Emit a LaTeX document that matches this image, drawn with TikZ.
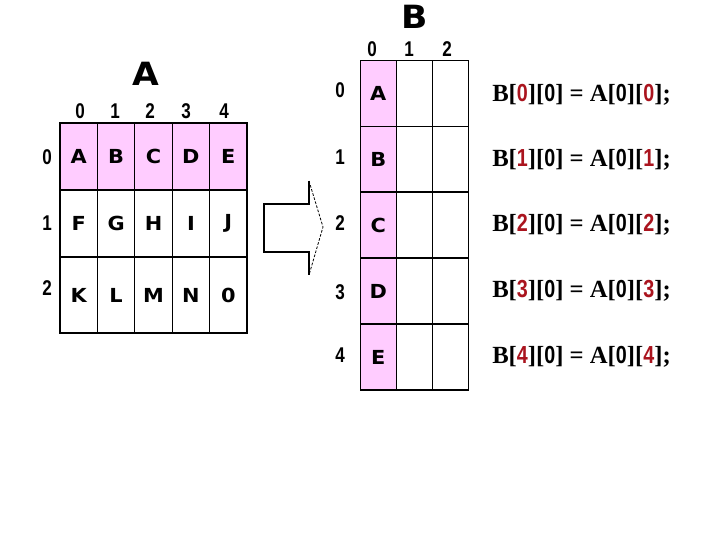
\documentclass[tikz,border=0pt]{standalone}
\usepackage{fontspec}
\setmainfont{Liberation Serif}
\newfontfamily\blackfont{DejaVu Sans}
\newfontfamily\digfont{Liberation Sans}
\definecolor{cellpink}{RGB}{255,204,255}
\definecolor{idxred}{RGB}{170,20,30}
\newcommand{\nd}[1]{\scalebox{0.8}[1]{\digfont\bfseries #1}}
\newcommand{\rd}[1]{\textcolor{idxred}{\nd{#1}}}
\newcommand{\wl}[1]{\scalebox{1.08}[1]{#1}}
\begin{document}
\begin{tikzpicture}[x=0.75pt,y=-0.75pt,
  cell/.style={draw=black,line width=0.9pt,inner sep=0pt,font=\blackfont\bfseries\fontsize{14.5}{17}\selectfont},
  acell/.style={cell,minimum width=28.05pt},
  bcell/.style={cell,minimum width=27pt,minimum height=49.5pt},
  idx/.style={inner sep=0pt,font=\fontsize{16}{18}\selectfont},
  title/.style={inner sep=0pt,font=\blackfont\bfseries\fontsize{24}{28}\selectfont},
  formula/.style={inner sep=0pt,anchor=west,font=\bfseries\fontsize{18.5}{22}\selectfont},
  arrowline/.style={line width=0.8pt},
  arrowdash/.style={line width=0.6pt,dash pattern=on 2pt off 1.2pt}]
\useasboundingbox (0,0) rectangle (720,540);
% titles
\node[title] (tA) at (146,74) {\wl{A}};
\node[title] (tB) at (415,17) {\wl{B}};
% A column labels
\foreach \c/\x in {0/80,1/115,2/150,3/186,4/224}
  \node[idx] (ac\c) at (\x,111) {\nd{\c}};
% A row labels
\foreach \r/\y in {0/157,1/223,2/288}
  \node[idx] (ar\r) at (47,\y) {\nd{\r}};
% A grid
\foreach \r/\y/\h/\fill/\letters in {0/156.5/50.25pt/cellpink/{A,B,C,D,E},1/223.5/50.25pt/white/{F,G,H,I,J},2/295/57pt/white/{K,L,M,N,0}}{
  \foreach \l [count=\ci from 0] in \letters {
    \pgfmathsetmacro{\xx}{78.7+37.4*\ci}
    \node[acell,fill=\fill,minimum height=\h] (a-\r-\ci) at (\xx,\y) {\ifx\l0\nd{0}\else\wl{\l}\fi};
  }
}
% B column labels
\foreach \c/\x in {0/372,1/409,2/447}
  \node[idx] (bc\c) at (\x,49) {\nd{\c}};
% B row labels
\foreach \r/\y in {0/90,1/157,2/223,3/292,4/355}
  \node[idx] (br\r) at (340,\y) {\nd{\r}};
% B grid
\foreach \r/\y/\l in {0/93.5/A,1/159.5/B,2/225/C,3/291/D,4/357/E}{
  \node[bcell,fill=cellpink] (b-\r-0) at (378.25,\y) {\wl{\l}};
  \node[bcell] (b-\r-1) at (414.25,\y) {};
  \node[bcell] (b-\r-2) at (450.25,\y) {};
}
% arrow
\coordinate (p1) at (264,204);
\coordinate (p2) at (309,204);
\coordinate (p3) at (309,181);
\coordinate (p4) at (323,227);
\coordinate (p5) at (309,275);
\coordinate (p6) at (309,252);
\coordinate (p7) at (264,252);
\fill[white] (p1) -- (p2) -- (p3) -- (p4) -- (p5) -- (p6) -- (p7) -- cycle;
\draw[arrowline] (p3) -- (p2) -- (p1) -- (p7) -- (p6) -- (p5);
\draw[arrowdash] (p3) -- (p4) -- (p5);
% formulas
\foreach \i/\y in {0/95,1/160,2/225,3/291,4/357}
  \node[formula] (f\i) at (492,\y) {B[\rd{\i}][\nd{0}] = A[\nd{0}][\rd{\i}];};
\end{tikzpicture}
\end{document}
